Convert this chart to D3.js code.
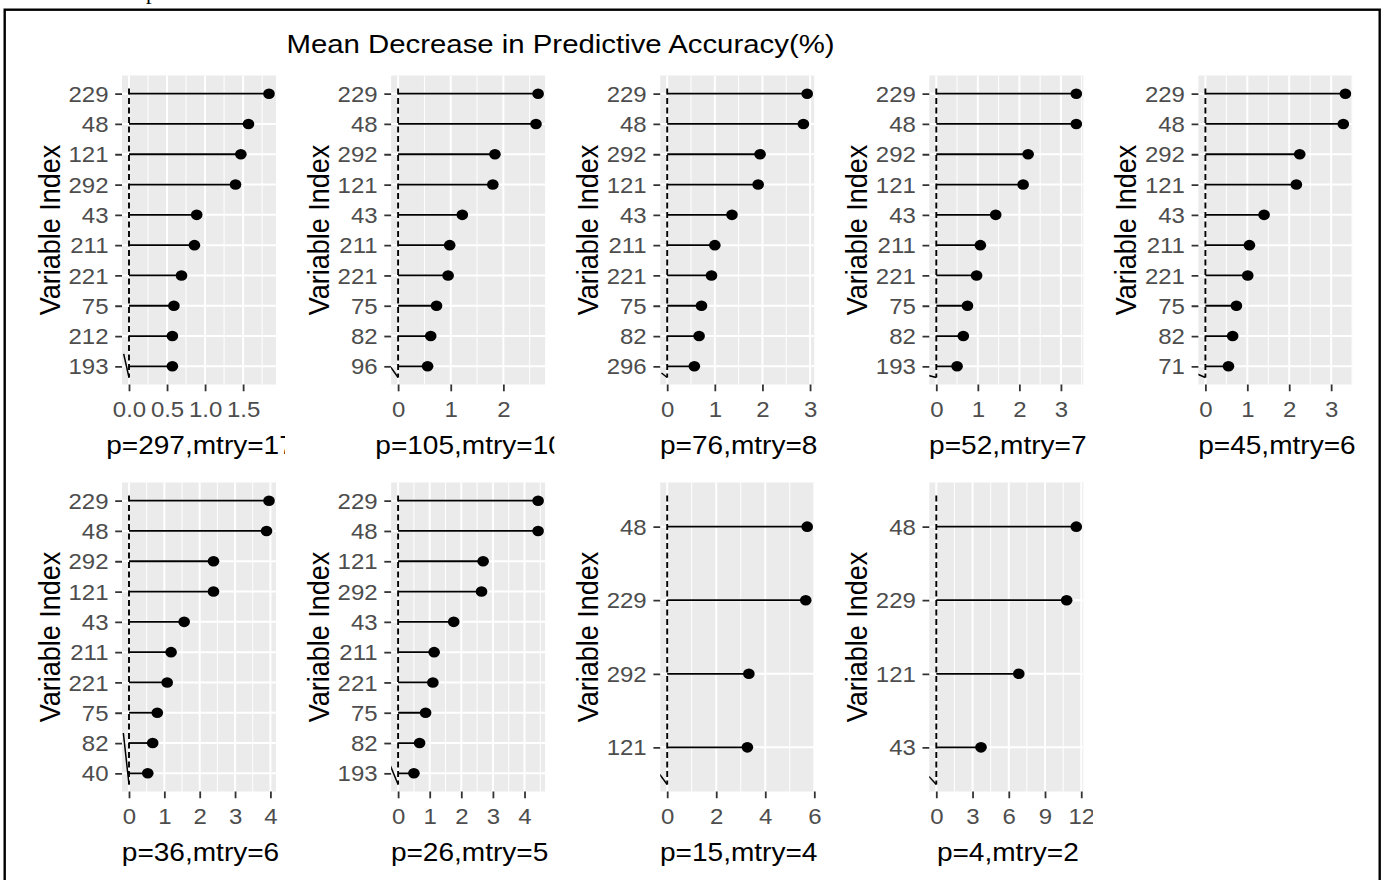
<!DOCTYPE html>
<html>
<head>
<meta charset="utf-8">
<script src="https://cdn.jsdelivr.net/npm/d3@7"></script>
<style>
body { margin: 0; background: #fff; }
svg { display: block; font-family: 'Liberation Sans', Arial, sans-serif; }
</style>
</head>
<body>
<div class="canvas"></div>
<script>
// panel titles (x axis titles), left to right, top row first
const panelTitles = ['p=297,mtry=17', 'p=105,mtry=10', 'p=76,mtry=8', 'p=52,mtry=7', 'p=45,mtry=6',
    'p=36,mtry=6', 'p=26,mtry=5', 'p=15,mtry=4', 'p=4,mtry=2']

// variable index per panel, top to bottom
const vars1 = ['229', '48', '121', '292', '43', '211', '221', '75', '212', '193']
const vars2 = ['229', '48', '292', '121', '43', '211', '221', '75', '82', '96']
const vars3 = ['229', '48', '292', '121', '43', '211', '221', '75', '82', '296']
const vars4 = ['229', '48', '292', '121', '43', '211', '221', '75', '82', '193']
const vars5 = ['229', '48', '292', '121', '43', '211', '221', '75', '82', '71']
const vars6 = ['229', '48', '292', '121', '43', '211', '221', '75', '82', '40']
const vars7 = ['229', '48', '121', '292', '43', '211', '221', '75', '82', '193']
const vars8 = ['48', '229', '292', '121']
const vars9 = ['48', '229', '121', '43']

// mean decrease in accuracy (%)
const vals1 = [1.84, 1.57, 1.47, 1.40, 0.89, 0.86, 0.69, 0.59, 0.57, 0.57]
const vals2 = [2.66, 2.62, 1.84, 1.80, 1.22, 0.98, 0.95, 0.73, 0.62, 0.56]
const vals3 = [2.94, 2.86, 1.95, 1.91, 1.36, 1.00, 0.93, 0.72, 0.67, 0.57]
const vals4 = [3.37, 3.37, 2.21, 2.09, 1.43, 1.06, 0.97, 0.75, 0.65, 0.50]
const vals5 = [3.34, 3.29, 2.25, 2.17, 1.40, 1.05, 1.01, 0.74, 0.65, 0.55]
const vals6 = [3.96, 3.89, 2.39, 2.39, 1.56, 1.19, 1.08, 0.80, 0.67, 0.53]
const vals7 = [4.43, 4.43, 2.69, 2.64, 1.76, 1.14, 1.10, 0.87, 0.68, 0.50]
const vals8 = [5.71, 5.65, 3.33, 3.27]
const vals9 = [11.59, 10.79, 6.83, 3.70]

// x tick labels per panel
const ticks1 = [0, 0.5, 1, 1.5]
const ticks2 = [0, 1, 2]
const ticks3 = [0, 1, 2, 3]
const ticks4 = [0, 1, 2, 3]
const ticks5 = [0, 1, 2, 3]
const ticks6 = [0, 1, 2, 3, 4]
const ticks7 = [0, 1, 2, 3, 4]
const ticks8 = [0, 2, 4, 6]
const ticks9 = [0, 3, 6, 9, 12]

// the little slanted stroke near the bottom of the zero line: start (value, categories above last one)
const tailX = [-0.07, -0.15, -0.12, -0.25, -0.25, -0.16, -0.24, -0.34, -0.75]
const tailY = [0.41, 0, -0.22, -0.28, -0.22, 1.33, 0.24, -0.35, -0.37]

const allVars = [vars1, vars2, vars3, vars4, vars5, vars6, vars7, vars8, vars9]
const allVals = [vals1, vals2, vals3, vals4, vals5, vals6, vals7, vals8, vals9]
const allTicks = [ticks1, ticks2, ticks3, ticks4, ticks5, ticks6, ticks7, ticks8, ticks9]

const SX = 1.1  // picture is stretched a little sideways
const panelW = 154
const panelH = 309
const rowTop = [75.5, 482.5]

const svg = d3.select('.canvas')
    .append('svg')
    .attr('width', 1383)
    .attr('height', 880)

const defs = svg.append('defs')

// outer frame
svg.append('rect')
    .attr('x', 4.7).attr('y', 9.7)
    .attr('width', 1375).attr('height', 900)
    .attr('fill', 'none').attr('stroke', '#000').attr('stroke-width', 2.4)

// bit of text cut off at the very top
svg.append('text')
    .attr('x', 146).attr('y', -1.5)
    .attr('font-family', "'Liberation Serif', serif")
    .attr('font-size', 22)
    .text('p')

svg.append('text')
    .attr('transform', `translate(560.5, 53) scale(${SX},1)`)
    .attr('text-anchor', 'middle')
    .attr('font-size', 26.7)
    .attr('fill', '#000')
    .text('Mean Decrease in Predictive Accuracy(%)')

allVars.forEach((vars, i) => {
    const vals = allVals[i]
    const ticks = allTicks[i]
    const col = i % 5
    const row = Math.floor(i / 5)
    const left = 122 + col * 269.1
    const top = rowTop[row]
    const bottom = top + panelH
    const max = d3.max(vals)

    // each cell clips its own text
    defs.append('clipPath').attr('id', 'cell' + i)
        .append('rect')
        .attr('x', 285 + (col - 1) * 269.3)
        .attr('y', row ? 470 : 60)
        .attr('width', 269.3)
        .attr('height', 410)
    defs.append('clipPath').attr('id', 'panel' + i)
        .append('rect')
        .attr('x', left).attr('y', top)
        .attr('width', panelW).attr('height', panelH)

    const cell = svg.append('g').attr('clip-path', `url(#cell${i})`)

    const x = d3.scaleLinear()
        .domain([-0.05 * max, 1.05 * max])
        .range([left, left + panelW])
    const y = d3.scalePoint()
        .domain(vars)
        .range([top, bottom])
        .padding(0.6)

    cell.append('rect')
        .attr('x', left).attr('y', top)
        .attr('width', panelW).attr('height', panelH)
        .attr('fill', '#EBEBEB')

    // minor grid: halfway between breaks, also past the ends
    const step = ticks[1] - ticks[0]
    const ext = [ticks[0] - step, ...ticks, ticks[ticks.length - 1] + step]
    const minors = d3.pairs(ext).map(p => (p[0] + p[1]) / 2)
        .filter(v => v >= x.domain()[0] && v <= x.domain()[1])

    const grid = cell.append('g')
    grid.selectAll('.minor').data(minors).enter().append('line')
        .attr('x1', d => x(d)).attr('x2', d => x(d))
        .attr('y1', top).attr('y2', bottom)
        .attr('stroke', '#fff').attr('stroke-width', 1)
    grid.selectAll('.majorx').data(ticks).enter().append('line')
        .attr('x1', d => x(d)).attr('x2', d => x(d))
        .attr('y1', top).attr('y2', bottom)
        .attr('stroke', '#fff').attr('stroke-width', 2)
    grid.selectAll('.majory').data(vars).enter().append('line')
        .attr('x1', left).attr('x2', left + panelW)
        .attr('y1', d => y(d)).attr('y2', d => y(d))
        .attr('stroke', '#fff').attr('stroke-width', 2)

    const marks = cell.append('g').attr('clip-path', `url(#panel${i})`)

    // dashed zero line
    marks.append('line')
        .attr('x1', x(0)).attr('x2', x(0))
        .attr('y1', top + 13).attr('y2', bottom - 7)
        .attr('stroke', '#000').attr('stroke-width', 1.9)
        .attr('stroke-dasharray', '6,3.5')

    const last = y(vars[vars.length - 1])
    marks.append('line')
        .attr('x1', x(tailX[i])).attr('y1', last - tailY[i] * y.step())
        .attr('x2', x(0)).attr('y2', bottom - 7)
        .attr('stroke', '#000').attr('stroke-width', 1.5)

    const data = vars.map((v, j) => ({name: v, value: vals[j]}))

    marks.selectAll('.seg').data(data).enter().append('line')
        .attr('x1', x(0)).attr('x2', d => x(d.value))
        .attr('y1', d => y(d.name)).attr('y2', d => y(d.name))
        .attr('stroke', '#000').attr('stroke-width', 1.8)

    marks.selectAll('.dot').data(data).enter().append('ellipse')
        .attr('cx', d => x(d.value)).attr('cy', d => y(d.name))
        .attr('rx', 5.3 * SX).attr('ry', 5.3)
        .attr('fill', '#000')

    // axes
    const yAxisGroup = cell.append('g')
        .attr('transform', `translate(${left}, 0)`)
        .call(d3.axisLeft(y).tickSize(6.8).tickSizeOuter(0))
    const xAxisGroup = cell.append('g')
        .attr('transform', `translate(0, ${bottom})`)
        .call(d3.axisBottom(x).tickValues(ticks).tickSize(6.8).tickSizeOuter(0)
            .tickFormat(i === 0 ? d3.format('.1f') : d3.format('d')))

    ;[yAxisGroup, xAxisGroup].forEach(a => {
        a.attr('font-size', null).attr('font-family', null)
        a.select('.domain').remove()
        a.selectAll('line').attr('stroke', '#333').attr('stroke-width', 1.8)
        a.selectAll('text').attr('fill', '#4D4D4D').attr('font-size', 21.8)
    })
    yAxisGroup.selectAll('text')
        .attr('x', null)
        .attr('dy', '0.35em')
        .attr('transform', `translate(-13.5, 0) scale(${SX},1)`)
    xAxisGroup.selectAll('text')
        .attr('y', null)
        .attr('dy', null)
        .attr('transform', `translate(0, 32) scale(${SX},1)`)

    // axis titles
    cell.append('text')
        .attr('transform', `translate(${left - 73}, ${top + panelH / 2}) scale(${SX},1) rotate(-90)`)
        .attr('text-anchor', 'middle')
        .attr('dy', '0.36em')
        .attr('font-size', 27)
        .attr('fill', '#000')
        .text('Variable Index')

    cell.append('text')
        .attr('transform', `translate(${left + panelW / 2 + 1.5}, ${bottom + 69.5}) scale(${SX},1)`)
        .attr('text-anchor', 'middle')
        .attr('font-size', 25.5)
        .attr('fill', '#000')
        .text(panelTitles[i])
})
</script>
</body>
</html>
